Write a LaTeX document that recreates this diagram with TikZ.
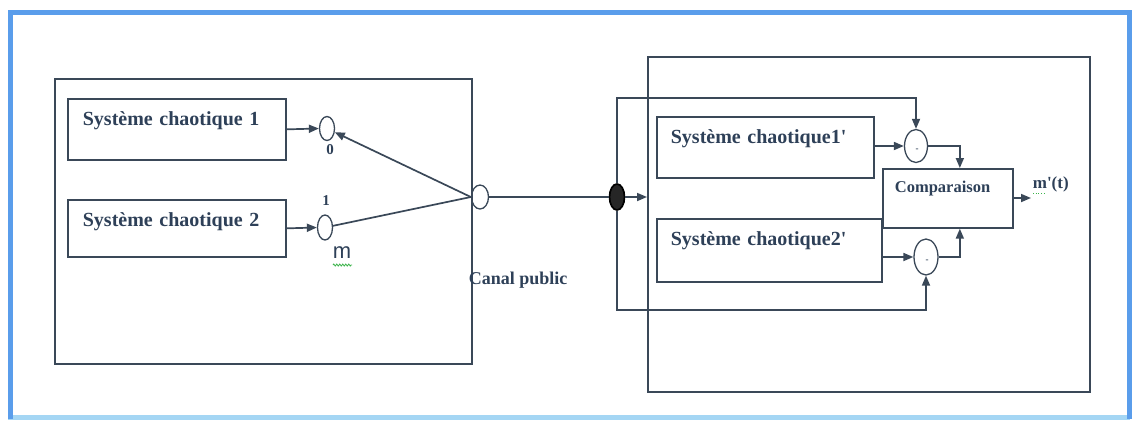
\documentclass[tikz,border=0pt]{standalone}
\usepackage{fontspec}
\setmainfont{Liberation Serif}
\newfontfamily\sansm{Liberation Sans}
\usetikzlibrary{arrows.meta,shapes.geometric,decorations.pathmorphing}
\definecolor{ln}{HTML}{3A4858}
\definecolor{tx}{HTML}{2E4058}
\definecolor{frameA}{HTML}{5A9DEB}
\definecolor{frameB}{HTML}{A4D6F4}
\definecolor{spell}{HTML}{3CB44B}
\begin{document}
\begin{tikzpicture}[x=1pt,y=-1pt,
  line width=1.7pt, draw=ln, text=tx,
  arr/.style={draw=ln, -{Triangle[length=10pt,width=8pt]}},
  box/.style={draw=ln, line width=1.7pt, rectangle, anchor=north west, inner ysep=0pt,
      align=left, font=\bfseries\fontsize{20}{22}\selectfont},
  ring/.style={draw=ln, line width=1.3pt, ellipse, inner sep=0pt},
  lab/.style={font=\bfseries\fontsize{15}{17}\selectfont, text=tx, inner sep=0pt}
]
\useasboundingbox (0,0) rectangle (1136,421);
\fill[white] (0,0) rectangle (1136,421);
% blue frame
\draw[frameB, line width=5pt] (8,417) -- (1130,417);
\draw[frameA, line width=5pt] (10,419) -- (10,12) -- (1129,12) -- (1129,419);

% containers
\node[draw=ln, line width=1.7pt, rectangle, anchor=north west, minimum width=417, minimum height=285, inner sep=0] (lb) at (54,78) {};
\node[draw=ln, line width=1.7pt, rectangle, anchor=north west, minimum width=442, minimum height=335, inner sep=0] (rb) at (647,56) {};

% systems
\node[box, minimum width=218, text width=188, inner xsep=15, text height=27, text depth=34] (s1) at (67,98) {Système chaotique 1};
\node[box, minimum width=218, text width=188, inner xsep=15, text height=27, text depth=30] (s2) at (67,199) {Système chaotique 2};
\node[box, minimum width=217, text width=189, inner xsep=14, text height=27, text depth=34] (s1p) at (656,116) {Système chaotique1\textquotesingle};
\node[box, minimum width=225, text width=197, inner xsep=14, text height=27, text depth=36] (s2p) at (656,218) {Système chaotique2\textquotesingle};
\node[box, minimum width=130, text width=106, inner xsep=12, text height=24, text depth=35, font=\bfseries\fontsize{16.5}{18}\selectfont] (cmp) at (882,168) {Comparaison};

% rings
\node[ring, minimum width=15, minimum height=24] (c0) at (327,128.5) {};
\node[ring, minimum width=15, minimum height=25] (c1) at (325,227.5) {};
\node[ring, minimum width=17, minimum height=24] (cc) at (480,197) {};
\node[ellipse, fill=black!85, draw=black, minimum width=15, minimum height=26, inner sep=0] (hx) at (617,197) {};
\node[ring, minimum width=23, minimum height=33] (d1) at (916,146) {};
\node[ring, minimum width=24, minimum height=36] (d2) at (926,257) {};
\node[lab, font=\bfseries\fontsize{9}{9}\selectfont] (d1m) at (917,150) {-};
\node[lab, font=\bfseries\fontsize{9}{9}\selectfont] (d2m) at (927,261) {-};

% labels
\node[lab] (l0) at (330,150) {0};
\node[lab] (l1) at (326,201) {1};
\node[inner sep=0, font=\sansm\fontsize{22}{24}\selectfont, text=tx, anchor=base] (lm) at (342,258) {m};
\draw[spell, line width=0.8pt, decorate, decoration={zigzag, segment length=3pt, amplitude=1pt}] (333,265) -- (352,265);
\node[inner sep=0, font=\bfseries\fontsize{18}{20}\selectfont, anchor=base west] (canal) at (468,284) {Canal public};
\node[inner sep=0, font=\bfseries\fontsize{17}{19}\selectfont, anchor=base west] (mt) at (1032,188) {m\textquotesingle(t)};
\draw[spell, line width=0.7pt, dotted] (1033,193) -- (1046,193);

% coordinates
\coordinate (top) at (0,98);
\coordinate (bot) at (0,310);
\coordinate (out) at (1031,198);

% left connectors
\draw[arr] (s1.east) -- (c0.west);
\draw[arr] (s2.east) -- (c1.west);
\draw[arr] (cc.west) -- (c0);
\draw (c1) -- (cc.west);
\draw (cc.east) -- (hx.west);

% right connectors
\draw[arr] (hx.east) -- (hx.east -| rb.west);
\draw[arr] (hx.north) |- (d1 |- top) -- (d1.north);
\draw[arr] (hx.south) |- (d2 |- bot) -- (d2.south);
\draw[arr] (s1p.east |- d1) -- (d1.west);
\draw[arr] (s2p.east |- d2) -- (d2.west);
\draw[arr] (d1.east) -| ([xshift=12pt]cmp.north);
\draw[arr] (d2.east) -| ([xshift=12pt]cmp.south);
\draw[arr] (cmp.east |- out) -- (out);
\end{tikzpicture}
\end{document}
